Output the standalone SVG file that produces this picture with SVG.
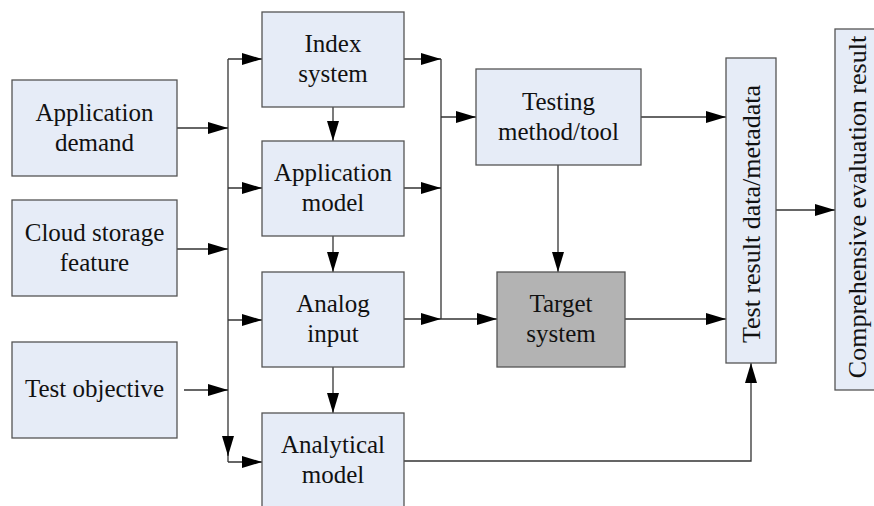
<svg xmlns="http://www.w3.org/2000/svg" width="874" height="506" viewBox="0 0 874 506">
<defs>
<marker id="arr" markerUnits="userSpaceOnUse" markerWidth="20" markerHeight="12" refX="20" refY="6" orient="auto">
<path d="M0,0 L20,6 L0,12 z" fill="#000"/>
</marker>
<style>
.box{fill:#e6ecf7;stroke:#555;stroke-width:1.3}
.gray{fill:#b3b3b3;stroke:#555;stroke-width:1.3}
.t{font-size:25px;fill:#111;text-anchor:middle}
.tv{font-size:26px;fill:#111;text-anchor:middle}
.ln{fill:none;stroke:#333;stroke-width:1.3}
.a{fill:none;stroke:#333;stroke-width:1.3;marker-end:url(#arr)}
</style>
</defs>
<rect width="874" height="506" fill="#fff"/>
<g id="connectors">
<path class="ln" d="M228,59 V462"/>
<path class="a" d="M228,440 V456"/>
<path class="a" d="M177,128 H228"/>
<path class="a" d="M177,249 H228"/>
<path class="a" d="M184,390 H228"/>
<path class="a" d="M228,59 H262"/>
<path class="a" d="M228,188 H262"/>
<path class="a" d="M228,320 H262"/>
<path class="a" d="M228,462 H262"/>
<path class="a" d="M333,107 V141"/>
<path class="a" d="M333,236 V272"/>
<path class="a" d="M333,367 V413"/>
<path class="ln" d="M441,59 V319"/>
<path class="a" d="M404,59 H441"/>
<path class="a" d="M404,188 H441"/>
<path class="a" d="M404,319 H441"/>
<path class="a" d="M441,117 H476"/>
<path class="a" d="M441,319 H497"/>
<path class="a" d="M558,165 V272"/>
<path class="a" d="M641,117 H726"/>
<path class="a" d="M625,319 H726"/>
<path class="a" d="M404,461 H751 V363"/>
<path class="a" d="M776,210 H835"/>
</g>
<g font-family="'Liberation Serif', Tinos, 'Times New Roman', Times, 'DejaVu Serif', serif">
<g id="app-demand">
<rect class="box" x="12" y="80" width="165" height="96"/>
<text class="t" x="94.5" y="120.5">Application</text>
<text class="t" x="94.5" y="150.5">demand</text>
</g>
<g id="cloud-storage">
<rect class="box" x="12" y="200" width="165" height="96"/>
<text class="t" x="94.5" y="240.5">Cloud storage</text>
<text class="t" x="94.5" y="270.5">feature</text>
</g>
<g id="test-objective">
<rect class="box" x="12" y="342" width="165" height="96"/>
<text class="t" x="94.5" y="397">Test objective</text>
</g>
<g id="index-system">
<rect class="box" x="262" y="12" width="142" height="95"/>
<text class="t" x="333" y="52">Index</text>
<text class="t" x="333" y="82">system</text>
</g>
<g id="application-model">
<rect class="box" x="262" y="141" width="142" height="95"/>
<text class="t" x="333" y="181">Application</text>
<text class="t" x="333" y="211">model</text>
</g>
<g id="analog-input">
<rect class="box" x="262" y="272" width="142" height="95"/>
<text class="t" x="333" y="312">Analog</text>
<text class="t" x="333" y="342">input</text>
</g>
<g id="analytical-model">
<rect class="box" x="262" y="413" width="142" height="96"/>
<text class="t" x="333" y="453">Analytical</text>
<text class="t" x="333" y="483">model</text>
</g>
<g id="testing-method">
<rect class="box" x="476" y="69" width="165" height="96"/>
<text class="t" x="558.5" y="110">Testing</text>
<text class="t" x="558.5" y="140">method/tool</text>
</g>
<g id="target-system">
<rect class="gray" x="497" y="272" width="128" height="95"/>
<text class="t" x="561" y="312">Target</text>
<text class="t" x="561" y="342">system</text>
</g>
<g id="test-result">
<rect class="box" x="726" y="58" width="50" height="305"/>
<text class="tv" transform="translate(760,214) rotate(-90)">Test result data/metadata</text>
</g>
<g id="comprehensive">
<rect class="box" x="835" y="29" width="42" height="361"/>
<text class="tv" transform="translate(866,207) rotate(-90)">Comprehensive evaluation result</text>
</g>
</g>
</svg>
